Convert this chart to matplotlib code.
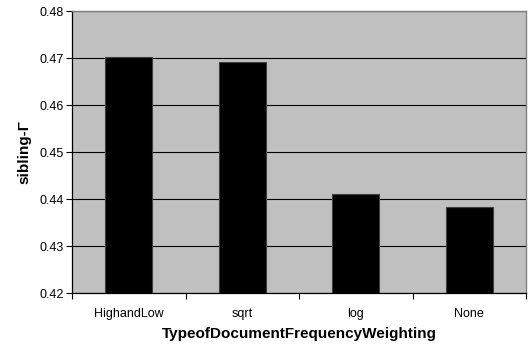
import matplotlib.pyplot as plt
import numpy as np

# sibling-gamma scores per weighting scheme
weightings = ["HighandLow", "sqrt", "log", "None"]
scores = [0.4702, 0.4692, 0.4411, 0.4384]
yticks = [0.42, 0.43, 0.44, 0.45, 0.46, 0.47, 0.48]

plt.rcParams['font.family'] = ['Liberation Sans', 'DejaVu Sans']

fig = plt.figure(figsize=(5.31, 3.48), dpi=100)
ax = fig.add_axes([0.1356, 0.158, 0.855, 0.81])

x = np.arange(len(weightings))
ax.bar(x, scores, width=0.41, color="black", edgecolor="#404040", linewidth=0.8, zorder=3)

ax.set_facecolor("#C0C0C0")
ax.set_ylim(0.42, 0.48)
ax.set_xlim(-0.5, len(weightings) - 0.5)
ax.set_yticks(yticks)
ax.set_yticklabels(["%.2f" % t for t in yticks], fontsize=9)
ax.yaxis.grid(True, color="black", linewidth=0.8, zorder=1)

# category labels centred, tick marks on the boundaries
ax.set_xticks(np.arange(len(weightings) + 1) - 0.5)
ax.set_xticklabels([])
ax.set_xticks(x, minor=True)
ax.set_xticklabels(weightings, minor=True, fontsize=9)
ax.tick_params(axis="x", which="minor", length=0, pad=11)
ax.tick_params(axis="x", which="major", length=4, width=0.8, color="black", direction="out")
ax.tick_params(axis="y", length=4, width=0.8, color="black", direction="out", pad=2)

for side in ["top", "right"]:
    ax.spines[side].set_color("#808080")
    ax.spines[side].set_linewidth(1.0)
for side in ["left", "bottom"]:
    ax.spines[side].set_color("black")
    ax.spines[side].set_linewidth(0.9)

ax.set_xlabel("TypeofDocumentFrequencyWeighting", fontsize=11, fontweight="bold", labelpad=5)
ax.set_ylabel("sibling-Γ", fontsize=11, fontweight="bold", labelpad=6)

fig.savefig("out.png", dpi=100)
